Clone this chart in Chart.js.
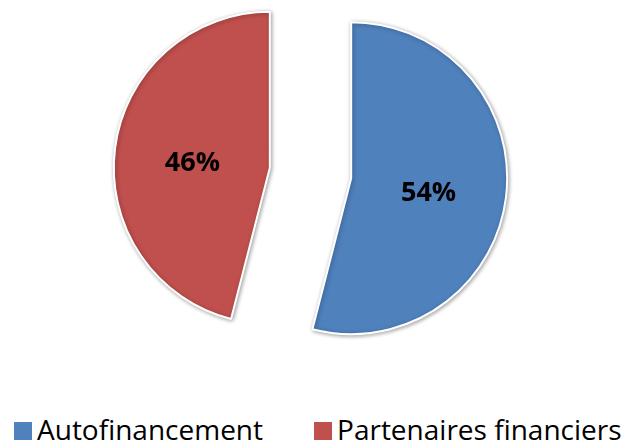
<!DOCTYPE html>
<html>
<head>
<meta charset="utf-8">
<script src="https://cdn.jsdelivr.net/npm/chart.js@4/dist/chart.umd.min.js"></script>
<style>
    html, body { margin: 0; padding: 0; background: #fff; }
    #wrap { position: relative; width: 621px; height: 445px; overflow: hidden; }
    #chartBox { position: absolute; left: 0; top: 0; width: 621px; height: 346px; }
    #legend { position: absolute; left: 14px; top: 414px; display: flex; white-space: nowrap;
              font-family: "Open Sans", sans-serif; font-size: 28px; line-height: 30px; color: #000; }
    #legend .item { display: flex; align-items: flex-start; margin-right: 51px; }
    #legend .box { width: 18px; height: 18px; margin-top: 8px; margin-right: 5px; }
</style>
</head>
<body>
<div id="wrap">
    <div id="chartBox"><canvas id="pie"></canvas></div>
    <div id="legend"></div>
</div>
<script>
// Financement - parts
const categories = ['Autofinancement', 'Partenaires financiers'];
const shares = [54, 46];
const sliceColors = ['#4F81BD', '#C0504D'];

const EXPLODE = 41;   // px each slice is pulled out along its bisector

// draw the arcs ourselves so each slice is moved out whole (straight radial edges)
const explodedPie = {
    id: 'explodedPie',
    beforeDatasetDraw(chart, args) {
        const ctx = chart.ctx;
        const meta = args.meta;
        meta.data.forEach(arc => {
            const p = arc.getProps(['startAngle', 'endAngle']);
            const mid = (p.startAngle + p.endAngle) / 2;
            ctx.save();
            ctx.shadowColor = 'rgba(0,0,0,0.35)';
            ctx.shadowBlur = 4;
            ctx.shadowOffsetX = 1;
            ctx.shadowOffsetY = 1;
            ctx.translate(Math.cos(mid) * EXPLODE, Math.sin(mid) * EXPLODE);
            arc.draw(ctx, chart.chartArea);
            ctx.restore();
        });
        return false;
    },
    afterDatasetsDraw(chart) {
        const ctx = chart.ctx;
        const meta = chart.getDatasetMeta(0);
        const total = shares.reduce((a, b) => a + b, 0);
        const size = 27;
        ctx.save();
        ctx.font = 'bold ' + size + 'px "Open Sans", sans-serif';
        ctx.fillStyle = '#000';
        ctx.textAlign = 'center';
        ctx.textBaseline = 'alphabetic';
        meta.data.forEach((arc, i) => {
            const p = arc.getProps(['x', 'y', 'startAngle', 'endAngle', 'outerRadius']);
            const mid = (p.startAngle + p.endAngle) / 2;
            const dist = EXPLODE + p.outerRadius * 0.5;
            const x = p.x + Math.cos(mid) * dist;
            const y = p.y + Math.sin(mid) * dist;
            const txt = Math.round(shares[i] / total * 100) + '%';
            ctx.fillText(txt, x, y + size * 0.357 + 3);
        });
        ctx.restore();
    }
};

// html legend built from the chart's own legend items
const htmlLegend = {
    id: 'htmlLegend',
    afterUpdate(chart) {
        const el = document.getElementById('legend');
        el.innerHTML = '';
        const items = chart.options.plugins.legend.labels.generateLabels(chart);
        items.forEach(item => {
            const row = document.createElement('div');
            row.className = 'item';
            const box = document.createElement('span');
            box.className = 'box';
            box.style.background = item.fillStyle;
            const txt = document.createElement('span');
            txt.textContent = item.text;
            row.appendChild(box);
            row.appendChild(txt);
            el.appendChild(row);
        });
    }
};

new Chart(document.getElementById('pie'), {
    type: 'pie',
    data: {
        labels: categories,
        datasets: [{
            data: shares,
            backgroundColor: sliceColors,
            borderColor: '#ffffff',
            borderWidth: 2
        }]
    },
    options: {
        responsive: true,
        maintainAspectRatio: false,
        animation: false,
        radius: 156,
        layout: { padding: 0 },
        plugins: {
            legend: { display: false },
            tooltip: { enabled: false }
        }
    },
    plugins: [explodedPie, htmlLegend]
});
</script>
</body>
</html>
